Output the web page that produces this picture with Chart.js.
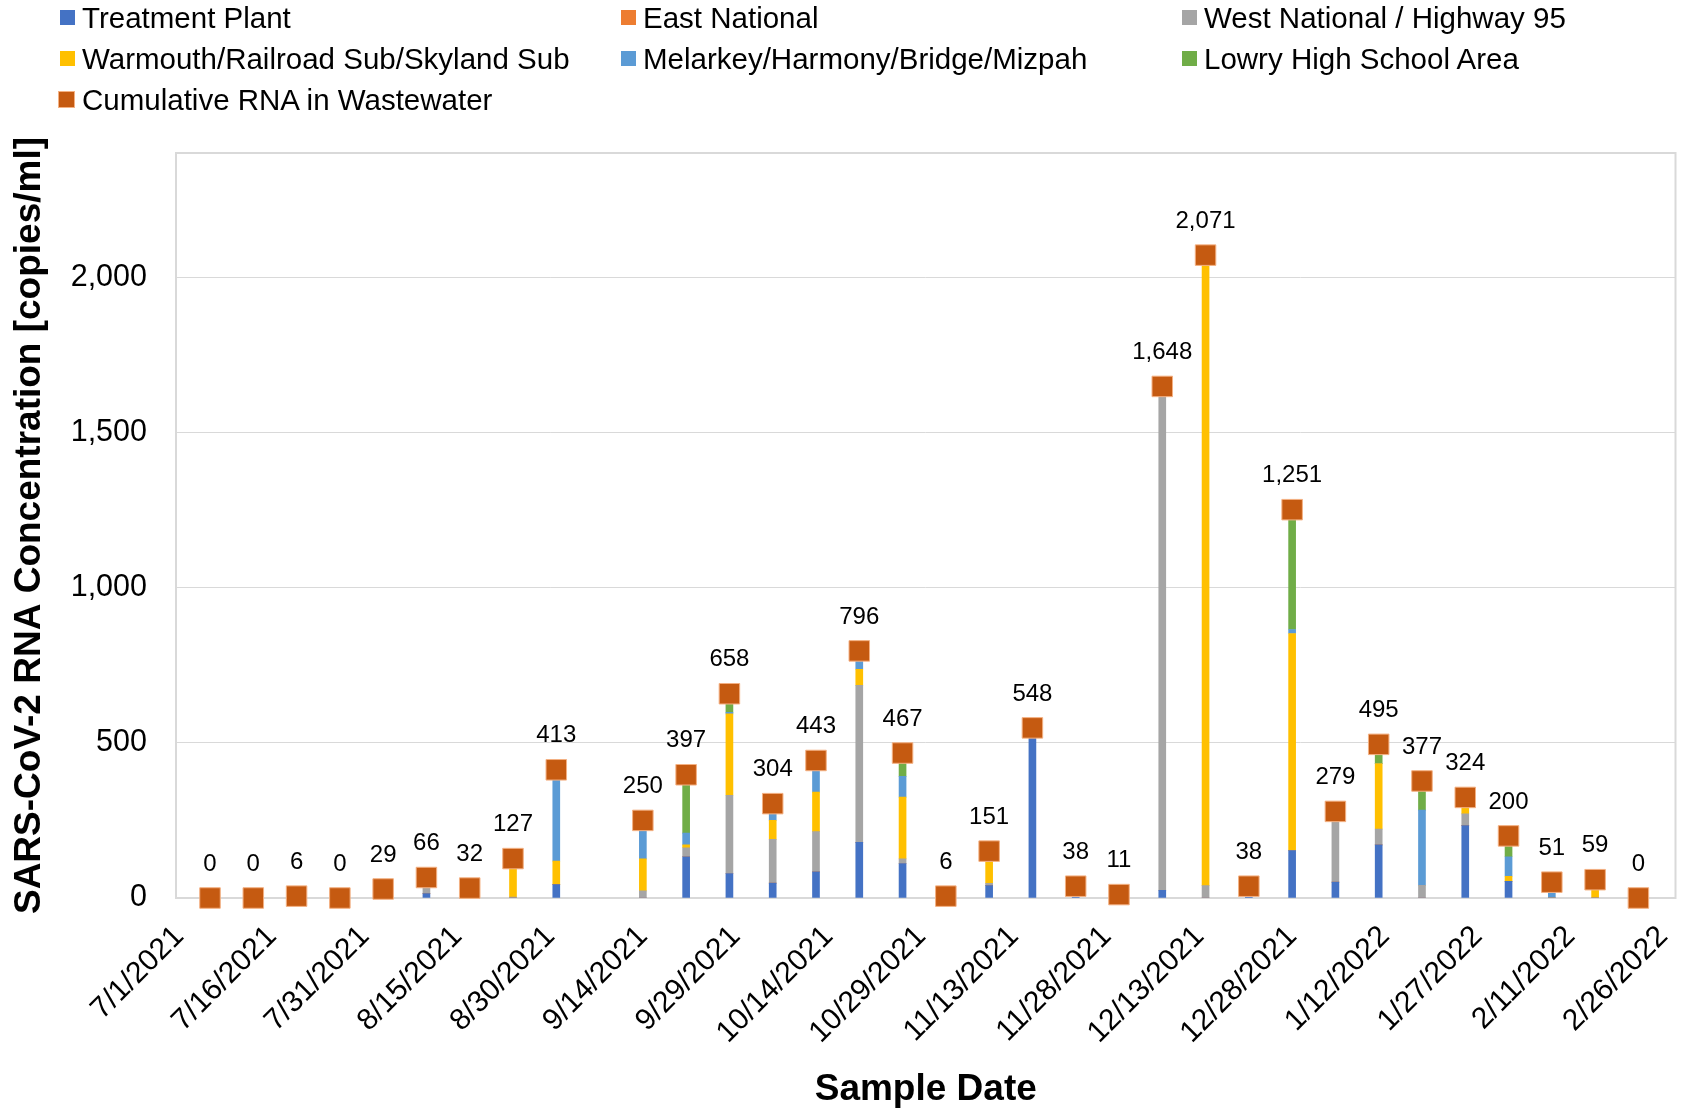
<!DOCTYPE html>
<html>
<head>
<meta charset="utf-8">
<script src="https://cdn.jsdelivr.net/npm/chart.js@4.4.0/dist/chart.umd.min.js"></script>
<style>
  body { margin: 0; background: #fff; }
  #wrap { position: relative; width: 1691px; height: 1113px; }
  #legend {
    position: absolute; left: 60px; top: -3px;
    display: grid; grid-template-columns: 561px 561px 561px; grid-auto-rows: 41px;
    font: 29.5px 'Liberation Sans', Arial, sans-serif; color: #000;
  }
  #legend .item { display: flex; align-items: center; white-space: nowrap; }
  #legend .swatch { width: 15px; height: 15px; margin-right: 7px; box-sizing: border-box; flex: none; }
</style>
</head>
<body>
<div id="wrap">
  <canvas id="myChart" width="1691" height="1113"></canvas>
  <div id="legend"></div>
</div>
<script>
const sampleDates = ['7/6/2021', '7/13/2021', '7/20/2021', '7/27/2021', '8/3/2021', '8/10/2021', '8/17/2021', '8/24/2021', '8/31/2021',
    '9/14/2021', '9/21/2021', '9/28/2021', '10/5/2021', '10/12/2021', '10/19/2021', '10/26/2021', '11/2/2021', '11/9/2021',
    '11/16/2021', '11/23/2021', '11/30/2021', '12/7/2021', '12/14/2021', '12/21/2021', '12/28/2021', '1/4/2022', '1/11/2022',
    '1/18/2022', '1/25/2022', '2/1/2022', '2/8/2022', '2/15/2022', '2/22/2022']

const treatmentPlant = [0, 0, 6, 0, 10, 14, 12, 0, 43, 0, 133, 79, 48, 84, 179, 111, 6, 40, 548, 10, 11, 25, 0, 18, 153, 51, 171, 0, 233, 54, 0, 0, 0]
const eastNational = [0, 0, 0, 0, 0, 0, 0, 0, 0, 0, 0, 0, 0, 0, 0, 0, 0, 0, 0, 0, 0, 0, 0, 0, 0, 0, 0, 0, 0, 0, 0, 0, 0]
const westNational = [0, 0, 0, 0, 19, 52, 0, 3, 0, 23, 29, 252, 141, 130, 506, 15, 0, 7, 0, 28, 0, 1623, 40, 20, 0, 228, 51, 41, 38, 0, 0, 0, 0]
const warmouth = [0, 0, 0, 0, 0, 0, 20, 124, 76, 103, 9, 262, 61, 127, 52, 199, 0, 104, 0, 0, 0, 0, 2015, 0, 699, 0, 211, 0, 53, 16, 0, 59, 0]
const melarkey = [0, 0, 0, 0, 0, 0, 0, 0, 294, 124, 38, 5, 54, 102, 59, 67, 0, 0, 0, 0, 0, 0, 16, 0, 13, 0, 0, 242, 0, 63, 51, 0, 0]
const lowry = [0, 0, 0, 0, 0, 0, 0, 0, 0, 0, 188, 60, 0, 0, 0, 75, 0, 0, 0, 0, 0, 0, 0, 0, 386, 0, 62, 94, 0, 67, 0, 0, 0]
const cumulative = [0, 0, 6, 0, 29, 66, 32, 127, 413, 250, 397, 658, 304, 443, 796, 467, 6, 151, 548, 38, 11, 1648, 2071, 38, 1251, 279, 495, 377, 324, 200, 51, 59, 0]

const tickLabels = ['7/1/2021', '7/16/2021', '7/31/2021', '8/15/2021', '8/30/2021', '9/14/2021', '9/29/2021', '10/14/2021',
    '10/29/2021', '11/13/2021', '11/28/2021', '12/13/2021', '12/28/2021', '1/12/2022', '1/27/2022', '2/11/2022', '2/26/2022']
const yTickValues = [0, 500, 1000, 1500, 2000]

// days counted from the first tick date
function dayNumber(str) {
    var p = str.split('/').map(Number)
    return Date.UTC(p[2], p[0] - 1, p[1]) / 86400000
}
const day0 = dayNumber(tickLabels[0])
const sampleDays = sampleDates.map(d => dayNumber(d) - day0)
const tickDays = tickLabels.map(d => dayNumber(d) - day0)

function points(values) {
    return values.map((v, i) => ({ x: sampleDays[i], y: v }))
}

const fontFamily = "'Liberation Sans', Arial, sans-serif"
Chart.defaults.font.family = fontFamily
Chart.defaults.color = '#000'

function barSet(label, values, color) {
    return {
        type: 'bar',
        label: label,
        data: points(values),
        backgroundColor: color,
        barThickness: 7,
        order: 1
    }
}

const plotBorder = {
    id: 'plotBorder',
    beforeDatasetsDraw(chart) {
        const { ctx, chartArea } = chart
        ctx.save()
        ctx.strokeStyle = '#d9d9d9'
        ctx.lineWidth = 2
        ctx.strokeRect(chartArea.left, chartArea.top, chartArea.right - chartArea.left, chartArea.bottom - chartArea.top)
        ctx.restore()
    }
}

const valueLabels = {
    id: 'valueLabels',
    afterDatasetsDraw(chart) {
        const ctx = chart.ctx
        const idx = chart.data.datasets.findIndex(d => d.type === 'line')
        const meta = chart.getDatasetMeta(idx)
        ctx.save()
        ctx.font = '24px ' + fontFamily
        ctx.fillStyle = '#000'
        ctx.textAlign = 'center'
        ctx.textBaseline = 'middle'
        meta.data.forEach((pt, i) => {
            ctx.fillText(cumulative[i].toLocaleString('en-US'), pt.x, pt.y - 34)
        })
        ctx.restore()
    }
}

const data = {
    datasets: [
        barSet('Treatment Plant', treatmentPlant, '#4472C4'),
        barSet('East National', eastNational, '#ED7D31'),
        barSet('West National / Highway 95', westNational, '#A5A5A5'),
        barSet('Warmouth/Railroad Sub/Skyland Sub', warmouth, '#FFC000'),
        barSet('Melarkey/Harmony/Bridge/Mizpah', melarkey, '#5B9BD5'),
        barSet('Lowry High School Area', lowry, '#70AD47'),
        {
            type: 'line',
            label: 'Cumulative RNA in Wastewater',
            data: points(cumulative),
            showLine: false,
            pointStyle: 'rect',
            pointRadius: 14.5,
            pointBackgroundColor: '#C55A11',
            pointBorderColor: '#F4B183',
            pointBorderWidth: 1,
            backgroundColor: '#C55A11',
            borderColor: '#F4B183',
            clip: false,
            order: 0
        }
    ]
}

const config = {
    data,
    options: {
        responsive: false,
        animation: false,
        events: [],
        layout: { padding: { top: 153, right: 12, left: 0, bottom: 0 } },
        plugins: {
            legend: { display: false },
            tooltip: { enabled: false }
        },
        scales: {
            x: {
                type: 'linear',
                stacked: true,
                offset: false,
                min: -0.5,
                max: 242,
                grid: { display: false, drawTicks: false, offset: false },
                border: { display: false },
                afterBuildTicks: (scale) => {
                    scale.ticks = tickDays.map(v => ({ value: v }))
                },
                afterFit: (scale) => {
                    scale.height = 215
                    scale.paddingLeft = 0
                    scale.paddingRight = 0
                },
                ticks: {
                    autoSkip: false,
                    minRotation: 45,
                    maxRotation: 45,
                    padding: 21,
                    font: { size: 30 },
                    color: '#000',
                    callback: (value, index) => tickLabels[index]
                },
                title: {
                    display: true,
                    text: 'Sample Date',
                    font: { size: 37, weight: 'bold' },
                    color: '#000',
                    padding: { top: 0, bottom: 1 }
                }
            },
            y: {
                type: 'linear',
                stacked: true,
                min: 0,
                max: 2400,
                grid: { color: '#d9d9d9', lineWidth: 1, drawTicks: false },
                border: { display: false },
                afterBuildTicks: (scale) => {
                    scale.ticks = yTickValues.map(v => ({ value: v }))
                },
                afterFit: (scale) => { scale.width = 176 },
                ticks: {
                    padding: 29,
                    font: { size: 30.5 },
                    color: '#000',
                    callback: (value) => value.toLocaleString('en-US')
                },
                title: {
                    display: true,
                    text: 'SARS-CoV-2 RNA Concentration [copies/ml]',
                    font: { size: 37, weight: 'bold' },
                    color: '#000',
                    padding: { top: 8, bottom: 0 }
                }
            }
        }
    },
    plugins: [plotBorder, valueLabels]
}

const chart = new Chart(document.getElementById('myChart'), config)

// legend laid out in three columns, built from the chart datasets
const legendBox = document.getElementById('legend')
chart.data.datasets.forEach(ds => {
    var item = document.createElement('div')
    item.className = 'item'
    var swatch = document.createElement('span')
    swatch.className = 'swatch'
    if (ds.type === 'line') {
        swatch.style.background = ds.pointBackgroundColor
        swatch.style.border = '1px solid ' + ds.pointBorderColor
        swatch.style.width = '17px'
        swatch.style.height = '17px'
        swatch.style.marginLeft = '-2px'
    } else {
        swatch.style.background = ds.backgroundColor
    }
    var text = document.createElement('span')
    text.textContent = ds.label
    item.appendChild(swatch)
    item.appendChild(text)
    legendBox.appendChild(item)
})
</script>
</body>
</html>
